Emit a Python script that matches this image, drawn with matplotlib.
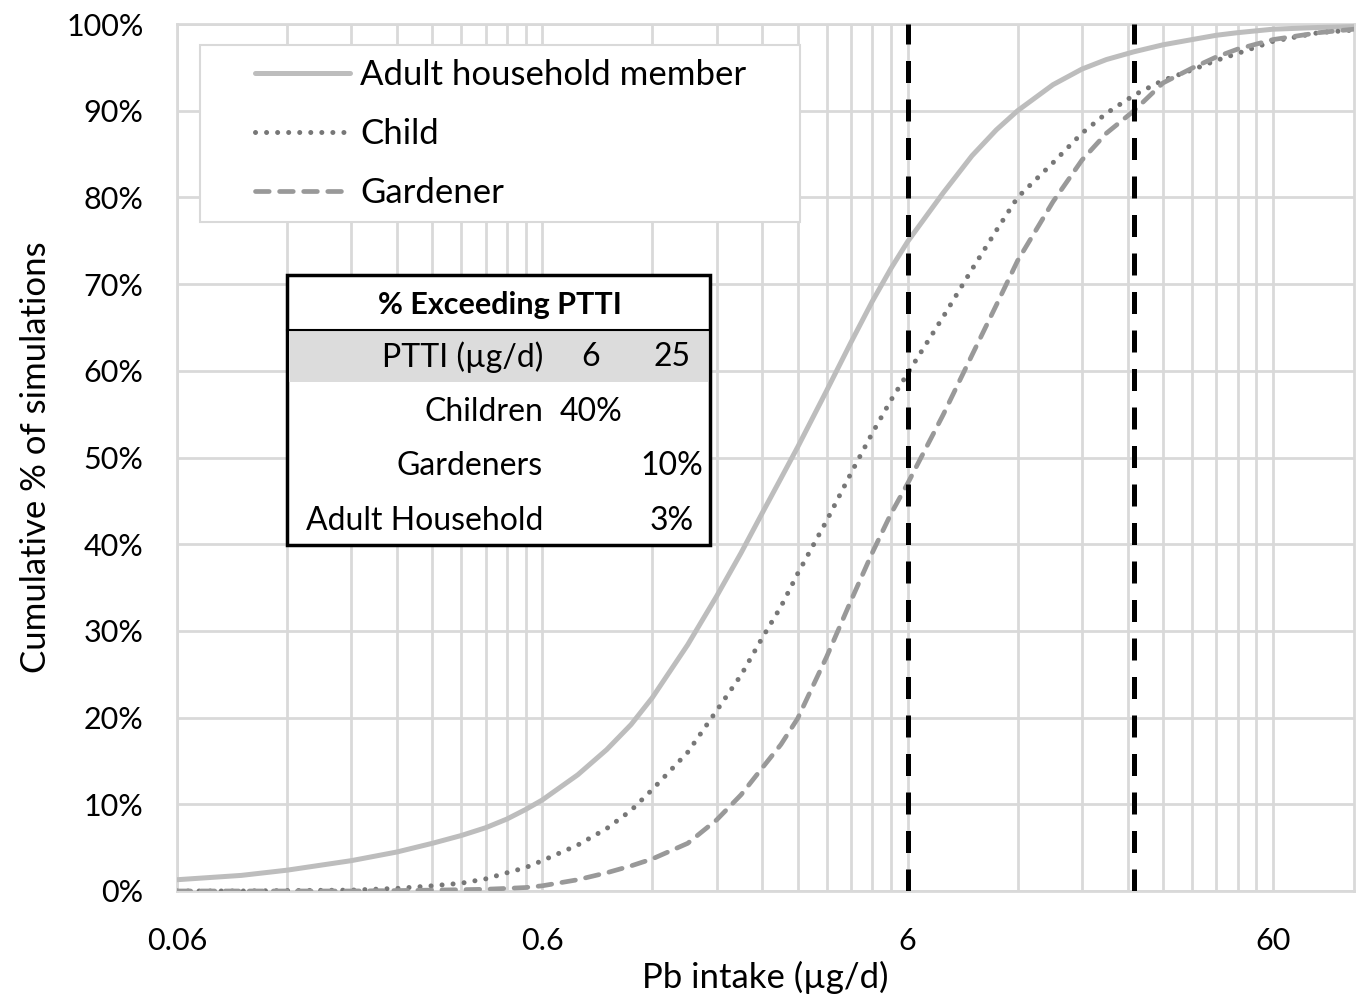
import matplotlib.pyplot as plt
from matplotlib.patches import Rectangle
from matplotlib.lines import Line2D
from matplotlib.ticker import FixedLocator, NullFormatter

plt.rcParams['font.family'] = ['Lato', 'DejaVu Sans']

# data (x in ug/d, y in cumulative %)
intake = [0.06, 0.09, 0.12, 0.18, 0.24, 0.3, 0.36, 0.42, 0.48, 0.54, 0.6, 0.75, 0.9, 1.05,
          1.2, 1.5, 1.8, 2.1, 2.4, 2.7, 3.0, 3.6, 4.2, 4.8, 5.4, 6, 7.5, 9, 10.5, 12, 15, 18,
          21, 25, 30, 36, 42, 48, 60, 80, 100]
adult = [1.3, 1.8, 2.4, 3.5, 4.5, 5.5, 6.4, 7.3, 8.3, 9.4, 10.5, 13.4, 16.3, 19.2,
         22.3, 28.4, 34.0, 39.0, 43.6, 47.6, 51.2, 57.7, 63.3, 68.0, 71.8, 74.9, 80.5, 84.8, 87.8,
         90.0, 93.0, 94.8, 95.9, 96.8, 97.6, 98.2, 98.7, 99.0, 99.4, 99.6, 99.7]
child = [0.0, 0.0, 0.05, 0.1, 0.3, 0.6, 0.9, 1.4, 2.1, 2.7, 3.5, 5.3, 7.2, 9.3,
         11.7, 16.0, 20.8, 24.9, 29.2, 32.8, 36.6, 42.7, 48.2, 52.8, 56.6, 59.7, 66.2, 71.7, 76.2,
         80.0, 84.0, 87.4, 89.7, 91.8, 93.5, 94.7, 95.8, 96.6, 98.0, 99.0, 99.3]
gardener = [0.0, 0.0, 0.0, 0.0, 0.05, 0.1, 0.15, 0.2, 0.3, 0.4, 0.6, 1.3, 2.1, 2.9,
            3.7, 5.5, 8.2, 11.1, 14.2, 16.9, 19.9, 27.0, 33.5, 39.0, 43.5, 47.0, 54.9, 61.8, 67.6,
            72.7, 79.5, 84.3, 87.4, 90.0, 93.2, 94.9, 96.2, 97.1, 98.2, 99.0, 99.4]
ptti = [6, 25]

legend_labels = ['Adult household member', 'Child', 'Gardener']
xticks = [0.06, 0.6, 6, 60]
xticklabels = ['0.06', '0.6', '6', '60']
yticks = list(range(0, 101, 10))

table_title = '% Exceeding PTTI'
table_rows = [['PTTI (µg/d)', '6', '25'],
              ['Children', '40%', ''],
              ['Gardeners', '', '10%'],
              ['Adult Household', '', '3%']]

W, H = 1363, 1000
fx = lambda px: px / W
fy = lambda py: 1 - py / H

fig = plt.figure(figsize=(W / 100, H / 100), dpi=100)
ax = fig.add_axes([fx(177), fy(891), (1354 - 177) / W, (891 - 24) / H])

grid_c = '#d9d9d9'
l1, = ax.plot(intake, adult, color='#bdbdbd', lw=3.6, solid_capstyle='round',
              solid_joinstyle='round', zorder=3)
l2, = ax.plot(intake, child, color='#777777', lw=3.6, linestyle=(0, (0.01, 2.2)),
              dash_capstyle='round', zorder=3)
l3, = ax.plot(intake, gardener, color='#999999', lw=3.4, linestyle=(0, (2.9, 2.2)),
              dash_capstyle='round', zorder=3)
for p in ptti:
    ax.axvline(p, color='black', lw=3.6, linestyle=(0, (4.4, 3.3)), zorder=4)

ax.set_xscale('log')
ax.set_xlim(0.06, 100)
ax.set_ylim(0, 100)
ax.xaxis.set_major_locator(FixedLocator(xticks))
ax.set_xticklabels(xticklabels)
minor = [0.06 * k * 10 ** n for n in range(4) for k in range(2, 10)]
ax.xaxis.set_minor_locator(FixedLocator([m for m in minor if m < 100]))
ax.xaxis.set_minor_formatter(NullFormatter())
ax.set_yticks(yticks)
ax.set_yticklabels([f'{v}%' for v in yticks])
ax.grid(True, which='both', color=grid_c, lw=2)
ax.set_axisbelow(True)
ax.tick_params(which='both', length=0, labelsize=22)
ax.tick_params(axis='y', pad=24)
ax.tick_params(axis='x', pad=26)
for s in ax.spines.values():
    s.set_color(grid_c)
    s.set_linewidth(2)

ax.set_xlabel('Pb intake (µg/d)', fontsize=25, labelpad=4)
ax.set_ylabel('Cumulative % of simulations', fontsize=25, labelpad=10)

# legend box
fig.patches.append(Rectangle((fx(200), fy(222)), (800 - 200) / W, (222 - 45) / H,
                             transform=fig.transFigure, facecolor='white',
                             edgecolor=grid_c, lw=1.5, zorder=1))
fig.legend([l1, l2, l3], legend_labels, loc='upper left',
           bbox_to_anchor=(fx(255), fy(59)), bbox_transform=fig.transFigure,
           frameon=False, borderpad=0, borderaxespad=0, fontsize=25,
           handlelength=2.74, handletextpad=0.29, labelspacing=0.78)

# inset table
fig.patches.append(Rectangle((fx(287), fy(545)), (710 - 287) / W, (545 - 275) / H,
                             transform=fig.transFigure, facecolor='white',
                             edgecolor='black', lw=2.5, zorder=1))
fig.patches.append(Rectangle((fx(289), fy(382)), (708 - 289) / W, (382 - 331) / H,
                             transform=fig.transFigure, facecolor='#dcdcdc',
                             edgecolor='none', zorder=1.5))
fig.lines.append(Line2D([fx(287), fx(710)], [fy(330), fy(330)], transform=fig.transFigure,
                        color='black', lw=1.5, zorder=2))
fig.text(fx(500), fy(305), table_title, ha='center', va='center', fontsize=22,
         fontweight='bold')
row_y = [357, 412, 466, 521]
for r, yy in zip(table_rows, row_y):
    fig.text(fx(543), fy(yy), r[0], ha='right', va='center', fontsize=23)
    fig.text(fx(591), fy(yy), r[1], ha='center', va='center', fontsize=23)
    fig.text(fx(672), fy(yy), r[2], ha='center', va='center', fontsize=23)

fig.savefig('out.png', dpi=100)
